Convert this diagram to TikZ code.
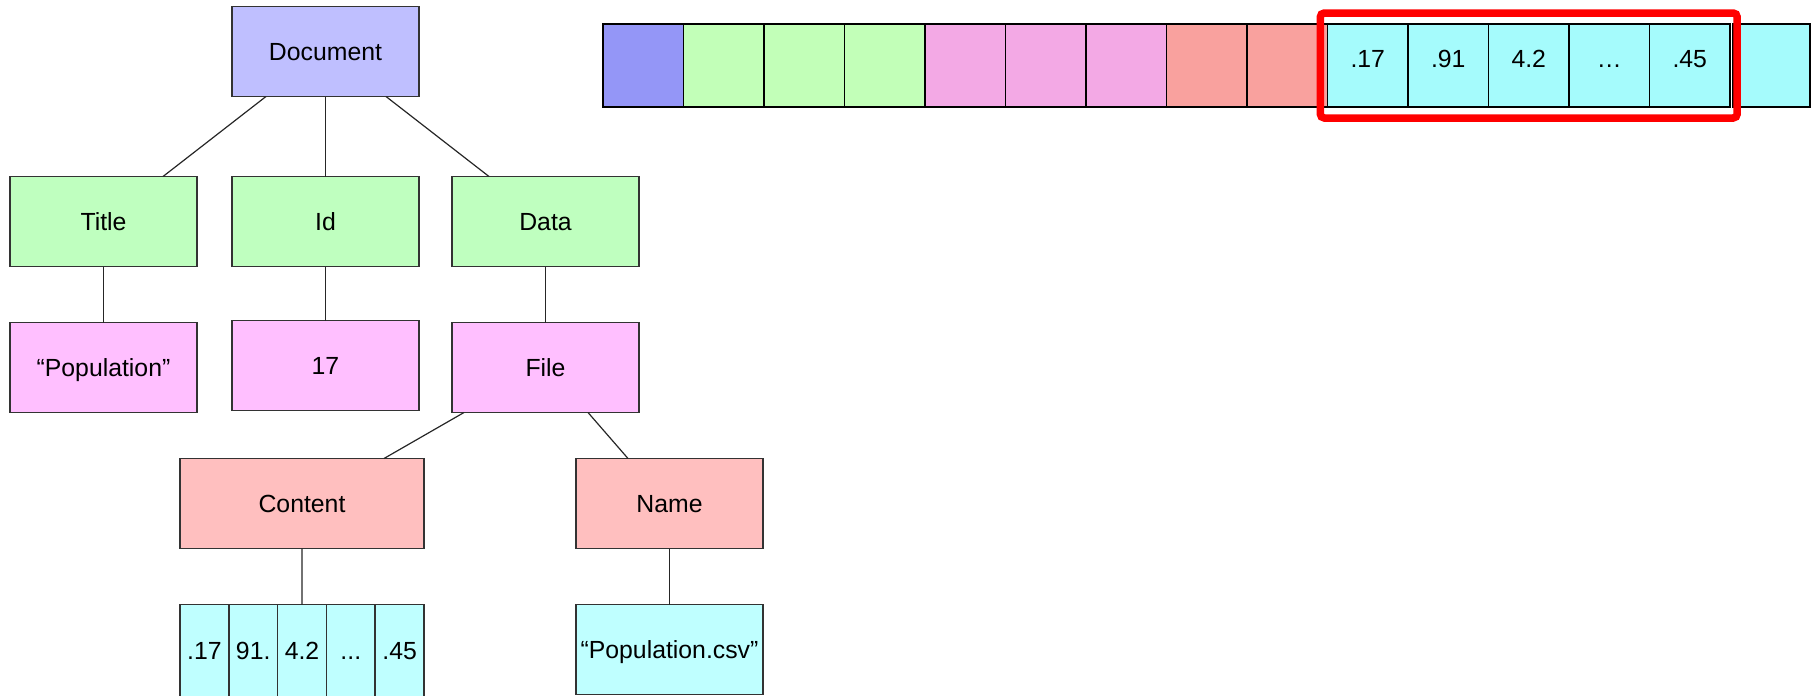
\documentclass[tikz,border=0pt]{standalone}
\usepackage{fontspec}
\setmainfont{Liberation Sans}
\usepackage{tikz}
\usetikzlibrary{positioning,fit}
\definecolor{tdoc}{HTML}{BFBFFF}
\definecolor{tgreen}{HTML}{BFFFBF}
\definecolor{tpink}{HTML}{FFBFFF}
\definecolor{tred}{HTML}{FFBFBF}
\definecolor{tcyan}{HTML}{BFFFFF}
\definecolor{sblue}{HTML}{9496F7}
\definecolor{sgreen}{HTML}{C2FFB8}
\definecolor{spink}{HTML}{F3A9E5}
\definecolor{sred}{HTML}{F9A19E}
\definecolor{scyan}{HTML}{A5FBFC}

\begin{document}
\begin{tikzpicture}[x=0.5pt,y=-0.5pt,
  font=\fontsize{12.4}{15}\selectfont,
  treebox/.style={draw=black!80,line width=0.8pt,minimum width=93.5pt,minimum height=45pt,
    inner sep=0pt,outer sep=0pt,text height=8.9pt,text depth=0pt},
  widebox/.style={treebox,minimum width=122pt},
  arrcell/.style={treebox,fill=tcyan,minimum width=24.4pt,minimum height=46pt},
  slotcell/.style={draw=black,line width=0.9pt,minimum width=40.25pt,minimum height=41.5pt,
    inner sep=0pt,outer sep=0pt,text height=8.9pt,text depth=7pt},
  hilite/.style={draw=red,line width=3.75pt,rounded corners=2pt,inner xsep=3.6pt,inner ysep=5.5pt},
  link/.style={black!85,line width=0.6pt}]
  \useasboundingbox (0,0) rectangle (1816,696);

  % tree
  \node[treebox,fill=tdoc] (doc) at (325.5,51.5) {Document};
  \node[treebox,fill=tgreen,below=40pt of doc] (id) {Id};
  \node[treebox,fill=tgreen,left=17.5pt of id] (title) {Title};
  \node[treebox,fill=tgreen,right=16.5pt of id] (data) {Data};
  \node[treebox,fill=tpink,below=28pt of title] (pop) {“Population”};
  \node[treebox,fill=tpink,below=27pt of id] (seventeen) {17};
  \node[treebox,fill=tpink,below=28pt of data] (file) {File};
  \node[widebox,fill=tred,below left=23pt and 14pt of file] (content) {Content};
  \node[treebox,fill=tred,right=76pt of content] (name) {Name};

  \node[arrcell,below=28pt of content.south west,anchor=north west] (c1) {.17};
  \node[arrcell,right=0pt of c1] (c2) {91.};
  \node[arrcell,right=0pt of c2] (c3) {4.2};
  \node[arrcell,right=0pt of c3] (c4) {...};
  \node[arrcell,right=0pt of c4] (c5) {.45};
  \node[treebox,fill=tcyan,below=28pt of name] (csv) {“Population.csv”};

  \draw[link] ([xshift=17pt]doc.south west) -- ([xshift=-17pt]title.north east);
  \draw[link] (doc) -- (id);
  \draw[link] ([xshift=-16.5pt]doc.south east) -- ([xshift=18.5pt]data.north west);
  \draw[link] (title) -- (pop);
  \draw[link] (id) -- (seventeen);
  \draw[link] (data) -- (file);
  \draw[link] ([xshift=6pt]file.south west) -- ([xshift=-20pt]content.north east);
  \draw[link] ([xshift=-25.5pt]file.south east) -- ([xshift=26pt]name.north west);
  \draw[link] (content) -- (c3);
  \draw[link] (name) -- (csv);

  % flat layout
  \foreach \c/\t [count=\i] in {sblue/{},sgreen/{},sgreen/{},sgreen/{},spink/{},spink/{},spink/{},
      sred/{},sred/{},scyan/.17,scyan/.91,scyan/4.2,scyan/…,scyan/.45}
    \node[slotcell,fill=\c] (s\i) at ({603+80.5*(\i-0.5)},65.5) {\t};
  \node[slotcell,fill=scyan,minimum width=38.5pt,right=1.6pt of s14] (s15) {};

  \node[hilite,fit=(s10)(s14)] (sel) {};
\end{tikzpicture}
\end{document}
